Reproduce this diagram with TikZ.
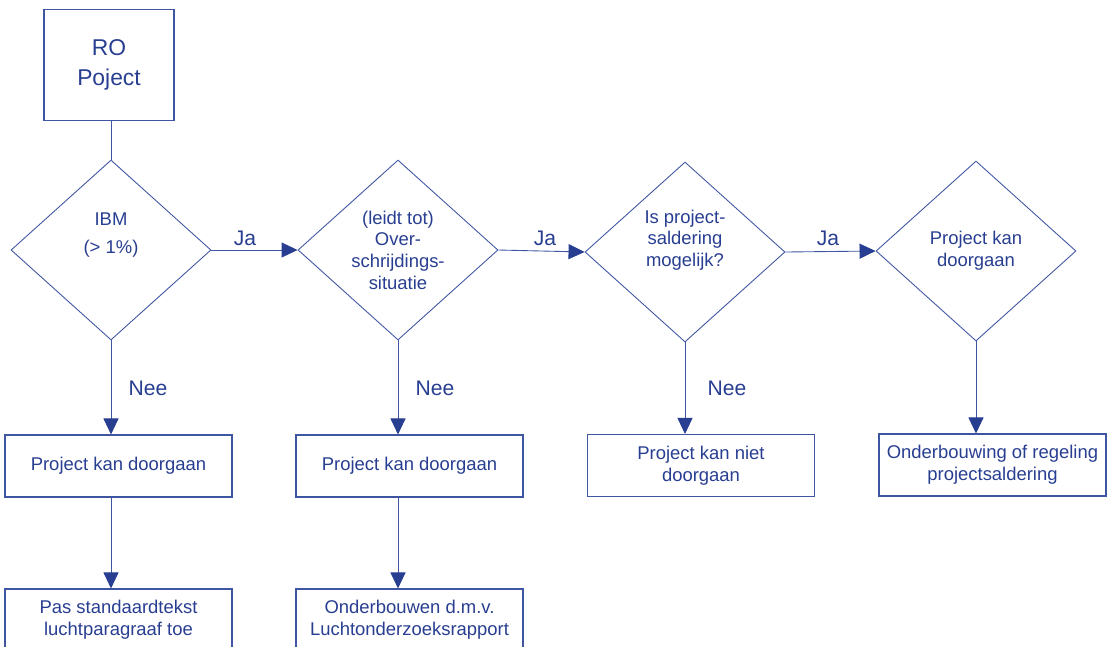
\documentclass[tikz,border=0pt]{standalone}
\usepackage{fontspec}
\setmainfont{Liberation Sans}
\usetikzlibrary{shapes.geometric,arrows.meta}
\definecolor{flowblue}{RGB}{40,62,145}
\definecolor{flowline}{RGB}{62,86,162}
\begin{document}
\begin{tikzpicture}[
  every node/.style={text=flowblue,font=\fontsize{10.5}{12.3}\selectfont,align=center},
  box/.style={draw=flowline,line width=0.6pt,minimum width=4.54cm,minimum height=1.24cm,inner sep=0},
  ask/.style={draw=flowline,line width=0.5pt,diamond,aspect=1.11,minimum width=4cm,minimum height=3.6cm,inner sep=0},
  lbl/.style={font=\fontsize{12}{14}\selectfont},
  arr/.style={draw=flowline,line width=0.5pt,-{Triangle[length=0.32cm,width=0.3cm,color=flowblue]}}]
\useasboundingbox (0,0) rectangle (22.22,-12.92);
\clip (0,0) rectangle (22.22,-12.92);
% start
\node[box,minimum width=2.6cm,minimum height=2.22cm,font=\fontsize{13}{17.5}\selectfont] (ro) at (2.18,-1.3) {RO\\Poject};
% vragen
\node[ask] (ibm) at (2.22,-5.0) {IBM\\[3.6pt](> 1\%)\\[3.6pt]\strut};
\node[ask] (over) at (7.96,-5.0) {(leidt tot)\\Over-\\schrijdings-\\situatie};
\node[ask] (sald) at (13.7,-5.04) {Is project-\\saldering\\mogelijk?\\\strut};
\node[ask] (door) at (19.52,-5.02) {Project kan\\doorgaan};
% uitkomsten
\node[box] (pk1) at (2.37,-9.32) {Project kan doorgaan};
\node[box] (pk2) at (8.19,-9.32) {Project kan doorgaan};
\node[box] (niet) at (14.02,-9.31) {Project kan niet\\doorgaan};
\node[box] (regel) at (19.85,-9.30) {Onderbouwing of regeling\\projectsaldering};
\node[box] (pas) at (2.37,-12.4) {Pas standaardtekst\\luchtparagraaf toe};
\node[box] (rapp) at (8.19,-12.4) {Onderbouwen d.m.v.\\Luchtonderzoeksrapport};
% labels
\node[lbl] (ja1) at (4.9,-4.76) {Ja};
\node[lbl] (ja2) at (10.9,-4.76) {Ja};
\node[lbl] (ja3) at (16.56,-4.76) {Ja};
\node[lbl] (nee1) at (2.96,-7.76) {Nee};
\node[lbl] (nee2) at (8.7,-7.76) {Nee};
\node[lbl] (nee3) at (14.54,-7.76) {Nee};
% verbindingen
\draw[flowline,line width=0.5pt] (ibm.north |- ro.south) -- (ibm.north);
\draw[arr] (ibm.east) -- (over.west);
\draw[arr] (over.east) -- (sald.west);
\draw[arr] (sald.east) -- (door.west);
\draw[arr] (ibm.south) -- (ibm.south |- pk1.north);
\draw[arr] (over.south) -- (over.south |- pk2.north);
\draw[arr] (sald.south) -- (sald.south |- niet.north);
\draw[arr] (door.south) -- (door.south |- regel.north);
\draw[arr] (ibm.south |- pk1.south) -- (ibm.south |- pas.north);
\draw[arr] (over.south |- pk2.south) -- (over.south |- rapp.north);
\end{tikzpicture}
\end{document}
